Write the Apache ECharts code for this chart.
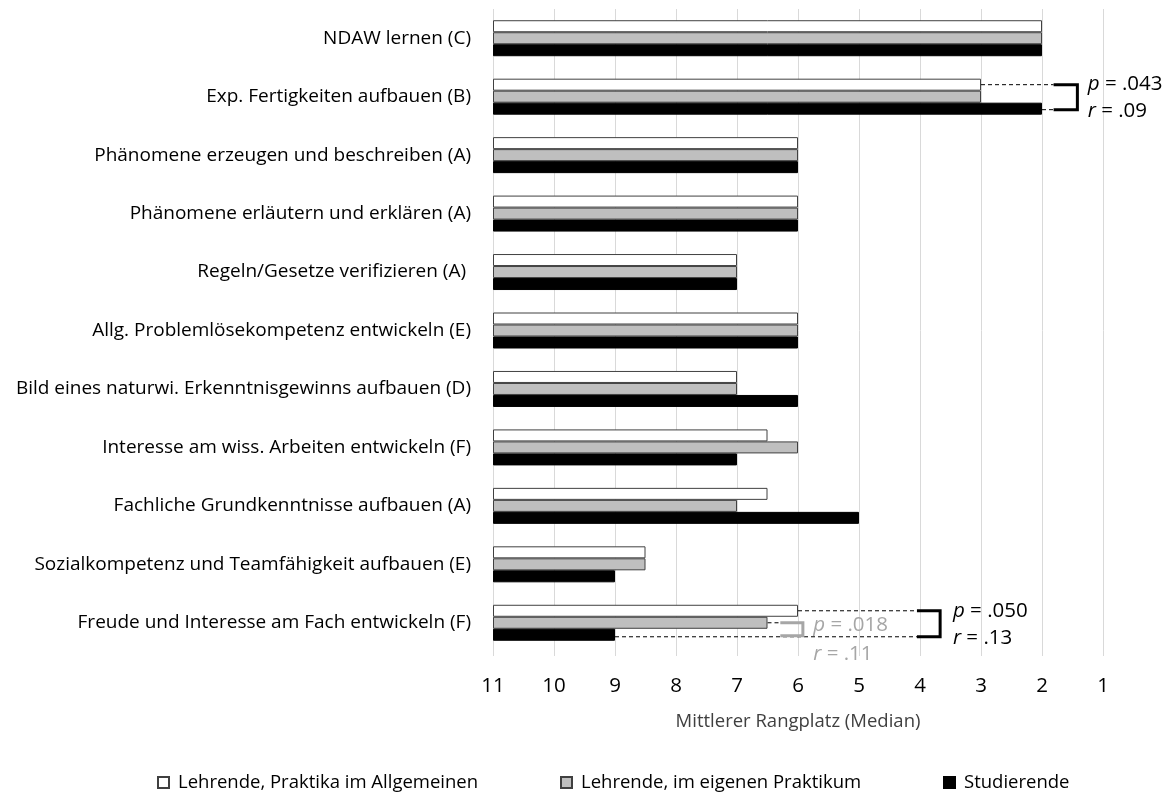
<!DOCTYPE html>
<html><head><meta charset="utf-8">
<script src="https://cdn.jsdelivr.net/npm/echarts@6/dist/echarts.min.js"></script>
<style>html,body{margin:0;padding:0;background:#fff}#c{width:1175px;height:796px}</style>
</head><body><div id="c"></div>
<script>
const categories = [
  "NDAW lernen (C)",
  "Exp. Fertigkeiten aufbauen (B)",
  "Phänomene erzeugen und beschreiben (A)",
  "Phänomene erläutern und erklären (A)",
  "Regeln/Gesetze verifizieren (A) ",
  "Allg. Problemlösekompetenz entwickeln (E)",
  "Bild eines naturwi. Erkenntnisgewinns aufbauen (D)",
  "Interesse am wiss. Arbeiten entwickeln (F)",
  "Fachliche Grundkenntnisse aufbauen (A)",
  "Sozialkompetenz und Teamfähigkeit aufbauen (E)",
  "Freude und Interesse am Fach entwickeln (F)"
];
const lehrendeAllgemein = [2, 3, 6, 6, 7, 6, 7, 6.5, 6.5, 8.5, 6];
const lehrendeEigen     = [2, 3, 6, 6, 7, 6, 7, 6, 7, 8.5, 6.5];
const studierende       = [2, 2, 6, 6, 7, 6, 6, 7, 5, 9, 9];
const seriesNames = ["Lehrende, Praktika im Allgemeinen", "Lehrende, im eigenen Praktikum", "Studierende"];
const rankMax = 11;
const tickLabels = [11, 10, 9, 8, 7, 6, 5, 4, 3, 2, 1];

const FONT = "Open Sans";
const chart = echarts.init(document.getElementById('c'), null, {renderer: 'canvas'});
const toLen = arr => arr.map(v => rankMax - v);

const option = {
  animation: false,
  textStyle: {fontFamily: FONT},
  grid: {left: 493, right: 72, top: 9, bottom: 144},
  xAxis: {
    type: 'value', min: 0, max: 10, interval: 1,
    name: 'Mittlerer Rangplatz (Median)', nameLocation: 'middle', nameGap: 60,
    nameTextStyle: {fontSize: 18.5, color: '#404040', fontFamily: FONT},
    axisLine: {show: false},
    axisTick: {show: true, length: 4, lineStyle: {color: '#d9d9d9'}},
    axisLabel: {fontSize: 20.5, color: '#000', margin: 24, fontFamily: FONT,
      formatter: v => String(tickLabels[Math.round(v)])},
    splitLine: {show: true, lineStyle: {color: '#d9d9d9', width: 1}}
  },
  yAxis: {
    type: 'category', data: categories, inverse: true,
    axisLine: {show: false}, axisTick: {show: false},
    axisLabel: {fontSize: 19, color: '#000', margin: 22, fontFamily: FONT}
  },
  legend: [
    {data: [seriesNames[0]], left: 157, top: 773},
    {data: [seriesNames[1]], left: 560, top: 773},
    {data: [seriesNames[2]], left: 943, top: 773}
  ].map(l => Object.assign(l, {itemWidth: 11, itemHeight: 11, itemGap: 6, padding: 0,
      textStyle: {fontSize: 18.5, color: '#000', fontFamily: FONT, padding: [0, 0, 0, 4]}, icon: 'rect'})),
  series: [
    {name: seriesNames[0], type: 'bar', data: toLen(lehrendeAllgemein), barWidth: 12, barGap: '0%',
     itemStyle: {color: '#ffffff', borderColor: '#404040', borderWidth: 1}},
    {name: seriesNames[1], type: 'bar', data: toLen(lehrendeEigen), barWidth: 12, barGap: '0%',
     itemStyle: {color: '#bfbfbf', borderColor: '#404040', borderWidth: 1}},
    {name: seriesNames[2], type: 'bar', data: toLen(studierende), barWidth: 12, barGap: '0%',
     itemStyle: {color: '#000000', borderColor: '#000', borderWidth: 1}}
  ]
};
chart.setOption(option);

function P(median, catIdx, off) {
  const p = chart.convertToPixel({gridIndex: 0}, [rankMax - median, catIdx]);
  return [p[0], p[1] + off];
}
function dashed(a, b, color) {
  return {type: 'line', shape: {x1: a[0], y1: a[1], x2: b[0], y2: b[1]},
    style: {stroke: color, lineWidth: 1, lineDash: [4, 3]}, silent: true};
}
function bracket(pts, color) {
  return {type: 'polyline', shape: {points: pts}, style: {stroke: color, lineWidth: 3, fill: null}, silent: true};
}
function label(pos, letter, val, color, size) {
  return {type: 'text', x: pos[0], y: pos[1], silent: true,
    style: {text: '{i|' + letter + '} = ' + val, fill: color, font: size + 'px ' + FONT, textVerticalAlign: 'middle',
      rich: {i: {fontStyle: 'italic', fontSize: size, fontFamily: FONT, fill: color}}}};
}
const OFF = 12;
const g = [];
// Exp. Fertigkeiten (index 1)
{
  const c = 1;
  const wEnd = P(lehrendeAllgemein[c], c, -OFF), sEnd = P(studierende[c], c, OFF + 1);
  const bx1 = P(1.81, c, 0)[0], bx2 = P(1.42, c, 0)[0];
  g.push(dashed(wEnd, [bx1, wEnd[1]], '#000'));
  g.push(dashed(sEnd, [bx1, sEnd[1]], '#000'));
  g.push(bracket([[bx1, wEnd[1]], [bx2, wEnd[1]], [bx2, sEnd[1]], [bx1, sEnd[1]]], '#000'));
  const tx = P(1.25, c, 0)[0];
  g.push(label([tx, wEnd[1] - 1], 'p', '.043', '#000', 20.5));
  g.push(label([tx, sEnd[1] + 1], 'r', '.09', '#000', 20.5));
}
// Freude (index 10)
{
  const c = 10;
  const wEnd = P(lehrendeAllgemein[c], c, -OFF), gEnd = P(lehrendeEigen[c], c, 0), sEnd = P(studierende[c], c, OFF + 2);
  const bx1 = P(4.05, c, 0)[0], bx2 = P(3.67, c, 0)[0];
  g.push(dashed(wEnd, [bx1, wEnd[1]], '#000'));
  g.push(dashed(sEnd, [bx1, sEnd[1]], '#000'));
  g.push(bracket([[bx1, wEnd[1]], [bx2, wEnd[1]], [bx2, sEnd[1]], [bx1, sEnd[1]]], '#000'));
  const tx = P(3.46, c, 0)[0];
  g.push(label([tx, wEnd[1]], 'p', '.050', '#000', 20.5));
  g.push(label([tx, sEnd[1] + 1], 'r', '.13', '#000', 20.5));
  // grey comparison
  const gx1 = P(6.29, c, 0)[0], gx2 = P(5.92, c, 0)[0];
  g.push(dashed(gEnd, [gx1, gEnd[1]], '#000'));
  g.push(bracket([[gx1, gEnd[1]], [gx2, gEnd[1]], [gx2, sEnd[1] - 1], [gx1, sEnd[1] - 1]], '#a6a6a6'));
  g.push(label([P(5.75, c, 0)[0], gEnd[1] + 2], 'p', '.018', '#a6a6a6', 20.5));
  g.push(label([P(5.75, c, 0)[0], sEnd[1] + 17], 'r', '.11', '#a6a6a6', 20.5));
}
chart.setOption({graphic: g});
</script></body></html>
